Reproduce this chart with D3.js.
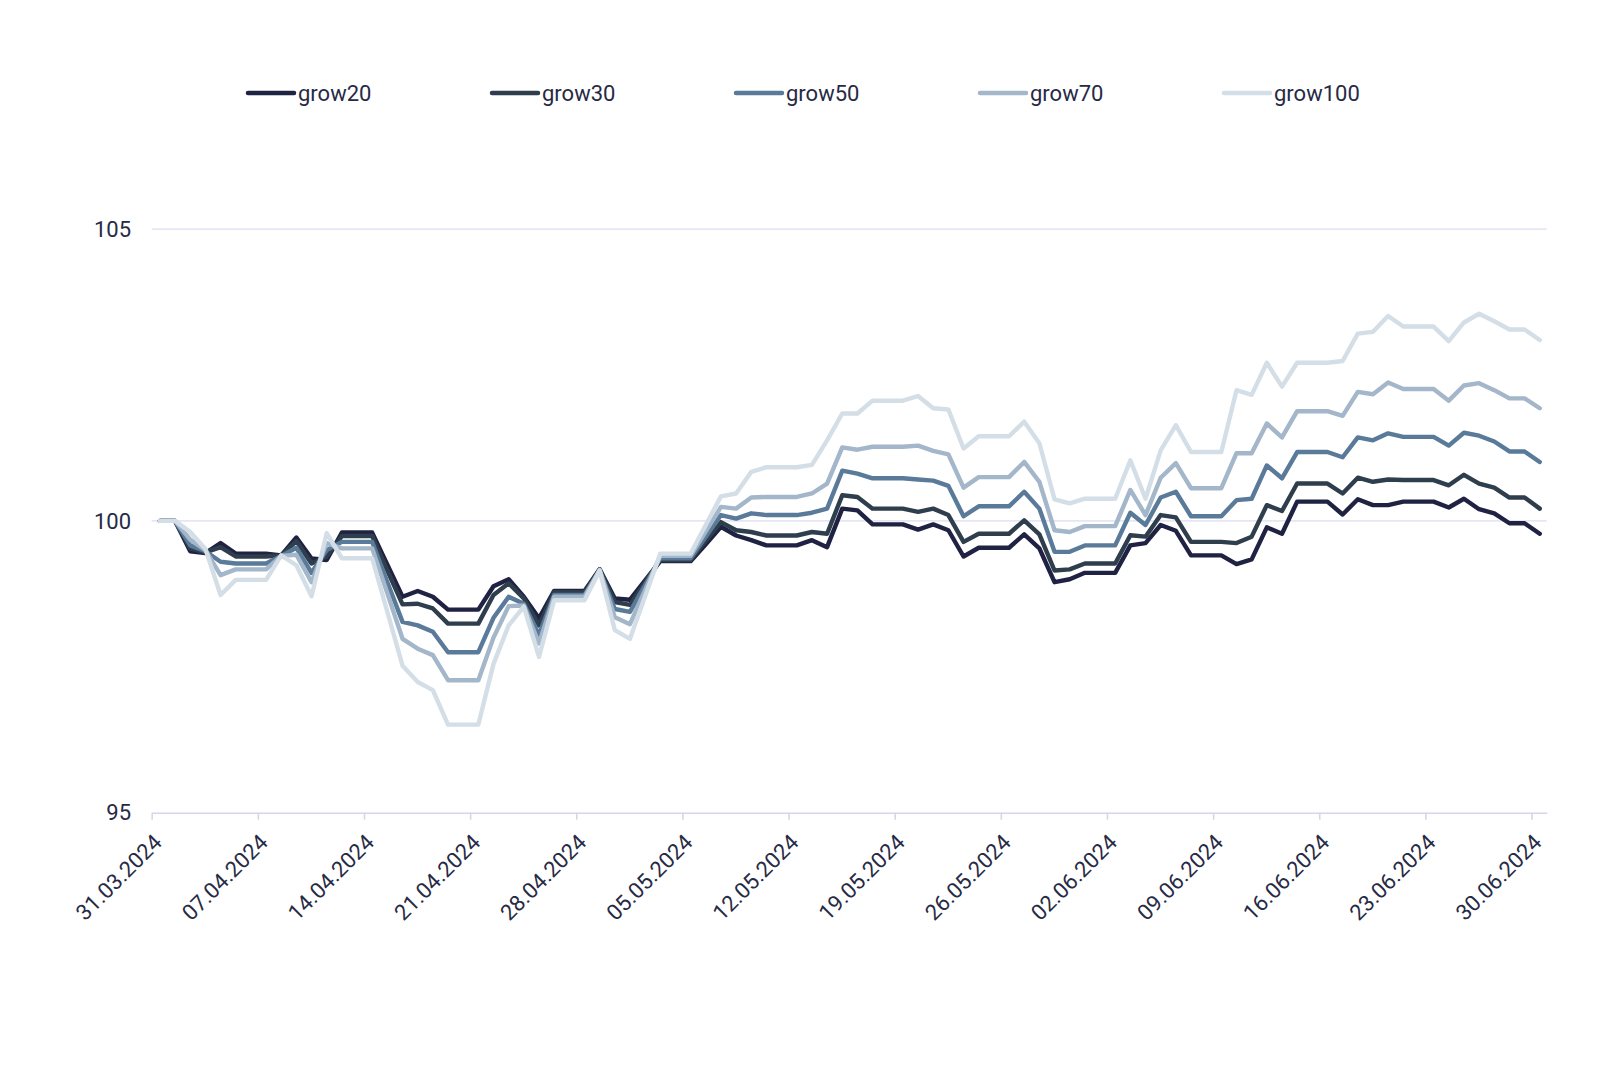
<!DOCTYPE html>
<html>
<head>
<meta charset="utf-8">
<script src="https://cdn.jsdelivr.net/npm/d3@7/dist/d3.min.js"></script>
<style>
  html, body { margin: 0; padding: 0; background: #ffffff; }
  svg { display: block; font-family: Roboto, "Noto Sans", sans-serif; }
</style>
</head>
<body>
<svg id="chart" width="1600" height="1074"></svg>
<script>
// ---- data ----
const startDate = "2024-03-31";
const endDate = "2024-07-01";
const seriesNames = ["grow20", "grow30", "grow50", "grow70", "grow100"];
const seriesColors = ["#1f2242", "#2f3e4c", "#5a7a99", "#a4b6c9", "#d4dee7"];
const yTicks = [95, 100, 105];

const grow20 = [
  100, 100, 99.48, 99.45, 99.62, 99.44, 99.44, 99.44, 99.41, 99.715,
  99.355, 99.33, 99.80, 99.80, 99.80, 99.25, 98.70, 98.80, 98.70, 98.48,
  98.48, 98.48, 98.88, 99.00, 98.70, 98.33, 98.80, 98.80, 98.80, 99.17,
  98.67, 98.65, 98.98, 99.31, 99.31, 99.31, 99.60, 99.90, 99.75, 99.67,
  99.58, 99.58, 99.58, 99.67, 99.55, 100.21, 100.18, 99.94, 99.94, 99.94,
  99.85, 99.94, 99.84, 99.39, 99.54, 99.54, 99.54, 99.77, 99.53, 98.95,
  99.00, 99.11, 99.11, 99.11, 99.58, 99.62, 99.93, 99.83, 99.41, 99.41,
  99.41, 99.26, 99.34, 99.89, 99.78, 100.33, 100.33, 100.33, 100.11, 100.37,
  100.27, 100.27, 100.33, 100.33, 100.33, 100.23, 100.38, 100.20, 100.13, 99.96,
  99.96, 99.78
];
const grow30 = [
  100, 100, 99.53, 99.46, 99.55, 99.39, 99.39, 99.39, 99.41, 99.655,
  99.27, 99.39, 99.74, 99.74, 99.74, 99.15, 98.57, 98.58, 98.50, 98.24,
  98.24, 98.24, 98.73, 98.93, 98.67, 98.21, 98.78, 98.78, 98.78, 99.17,
  98.61, 98.56, 98.95, 99.33, 99.33, 99.33, 99.66, 99.98, 99.84, 99.81,
  99.75, 99.75, 99.75, 99.81, 99.78, 100.44, 100.41, 100.21, 100.21, 100.21,
  100.155, 100.21, 100.10, 99.64, 99.78, 99.78, 99.78, 100.01, 99.77, 99.15,
  99.17, 99.27, 99.27, 99.27, 99.755, 99.73, 100.10, 100.06, 99.64, 99.64,
  99.64, 99.62, 99.73, 100.27, 100.17, 100.64, 100.64, 100.64, 100.47, 100.74,
  100.67, 100.71, 100.70, 100.70, 100.70, 100.61, 100.79, 100.64, 100.57, 100.40,
  100.40, 100.21
];
const grow50 = [
  100, 100, 99.58, 99.48, 99.30, 99.27, 99.27, 99.27, 99.40, 99.54,
  99.11, 99.50, 99.64, 99.64, 99.64, 98.95, 98.27, 98.21, 98.10, 97.75,
  97.75, 97.75, 98.34, 98.70, 98.58, 98.05, 98.73, 98.73, 98.73, 99.15,
  98.49, 98.44, 98.90, 99.36, 99.36, 99.36, 99.73, 100.10, 100.04, 100.13,
  100.10, 100.10, 100.10, 100.14, 100.21, 100.86, 100.81, 100.73, 100.73, 100.73,
  100.71, 100.69, 100.60, 100.08, 100.25, 100.25, 100.25, 100.50, 100.21, 99.47,
  99.47, 99.58, 99.58, 99.58, 100.14, 99.93, 100.40, 100.50, 100.08, 100.08,
  100.08, 100.355, 100.38, 100.95, 100.73, 101.18, 101.18, 101.18, 101.09, 101.43,
  101.38, 101.50, 101.44, 101.44, 101.44, 101.29, 101.51, 101.46, 101.36, 101.19,
  101.19, 101.01
];
const grow70 = [
  100, 100, 99.68, 99.50, 99.07, 99.17, 99.17, 99.17, 99.40, 99.42,
  98.95, 99.62, 99.53, 99.53, 99.53, 98.76, 97.98, 97.81, 97.70, 97.27,
  97.27, 97.27, 98.00, 98.54, 98.55, 97.90, 98.70, 98.70, 98.70, 99.16,
  98.35, 98.23, 98.82, 99.40, 99.40, 99.40, 99.82, 100.24, 100.21, 100.40,
  100.41, 100.41, 100.41, 100.47, 100.64, 101.26, 101.22, 101.27, 101.27, 101.27,
  101.29, 101.20, 101.14, 100.57, 100.75, 100.75, 100.75, 101.01, 100.67, 99.84,
  99.81, 99.91, 99.91, 99.91, 100.53, 100.10, 100.74, 100.99, 100.56, 100.56,
  100.56, 101.16, 101.16, 101.67, 101.43, 101.88, 101.88, 101.88, 101.80, 102.21,
  102.17, 102.37, 102.26, 102.26, 102.26, 102.06, 102.32, 102.36, 102.24, 102.10,
  102.10, 101.93
];
const grow100 = [
  100, 100, 99.81, 99.52, 98.73, 98.99, 98.99, 98.99, 99.41, 99.24,
  98.71, 99.79, 99.36, 99.36, 99.36, 98.44, 97.52, 97.24, 97.10, 96.51,
  96.51, 96.51, 97.55, 98.21, 98.53, 97.67, 98.64, 98.64, 98.64, 99.15,
  98.13, 97.98, 98.71, 99.44, 99.44, 99.44, 99.93, 100.42, 100.47, 100.84,
  100.92, 100.92, 100.92, 100.96, 101.38, 101.84, 101.84, 102.06, 102.06, 102.06,
  102.14, 101.93, 101.91, 101.24, 101.45, 101.45, 101.45, 101.70, 101.33, 100.37,
  100.30, 100.38, 100.38, 100.38, 101.04, 100.38, 101.21, 101.64, 101.18, 101.18,
  101.18, 102.24, 102.16, 102.71, 102.30, 102.71, 102.71, 102.71, 102.74, 103.21,
  103.24, 103.51, 103.33, 103.33, 103.33, 103.08, 103.40, 103.55, 103.42, 103.28,
  103.28, 103.10
];
const seriesValues = [grow20, grow30, grow50, grow70, grow100];

// ---- layout ----
const margin = { left: 151.7, right: 1546.7, top: 229.1, bottom: 812.7 };
const textColor = "#272a45";
const gridColor = "#dcdcf0";

const parse = d3.timeParse("%Y-%m-%d");
const t0 = parse(startDate), t1 = parse(endDate);
const dates = d3.timeDay.range(t0, t1); // one point per day, 31.03 .. 30.06
const pointTime = d => d3.timeHour.offset(d, 13);

const x = d3.scaleTime().domain([t0, t1]).range([margin.left, margin.right]);
const y = d3.scaleLinear().domain([95, 105]).range([margin.bottom, margin.top]);

const svg = d3.select("#chart");

// gridlines
svg.append("g").selectAll("line").data(yTicks.filter(v => v !== 95)).join("line")
  .attr("x1", margin.left).attr("x2", margin.right)
  .attr("y1", d => y(d)).attr("y2", d => y(d))
  .attr("stroke", gridColor).attr("stroke-width", 1.2);

// y labels
svg.append("g").selectAll("text").data(yTicks).join("text")
  .attr("x", 131).attr("y", d => y(d))
  .attr("dy", "0.35em")
  .attr("text-anchor", "end")
  .attr("font-size", 22)
  .attr("fill", textColor)
  .text(d => d);

// x axis
const xAxis = d3.axisBottom(x)
  .ticks(d3.timeWeek.every(1))
  .tickFormat(d3.timeFormat("%d.%m.%Y"))
  .tickSize(7)
  .tickSizeOuter(0);
const gx = svg.append("g").attr("transform", `translate(0,${margin.bottom})`).call(xAxis);
gx.select(".domain").attr("stroke", "#d5d5ec").attr("stroke-width", 1.6);
gx.selectAll(".tick line").attr("stroke", "#d5d5ec").attr("stroke-width", 1.6);
gx.selectAll(".tick text")
  .attr("font-size", 22)
  .attr("font-family", "Roboto, 'Noto Sans', sans-serif")
  .attr("fill", textColor)
  .attr("text-anchor", "end")
  .attr("x", 0).attr("y", 0).attr("dy", 0)
  .attr("transform", "translate(11,31) rotate(-45)");

// lines
const line = d3.line()
  .x((d, i) => x(pointTime(dates[i])))
  .y(d => y(d));

svg.append("g").selectAll("path").data(seriesValues).join("path")
  .attr("d", d => line(d))
  .attr("fill", "none")
  .attr("stroke", (d, i) => seriesColors[i])
  .attr("stroke-width", 4.4)
  .attr("stroke-linejoin", "round")
  .attr("stroke-linecap", "round");

// legend
const legendX = d3.scaleLinear().domain([0, 1]).range([248, 492]);
const lg = svg.append("g").selectAll("g").data(seriesNames).join("g")
  .attr("transform", (d, i) => `translate(${legendX(i)},93)`);
lg.append("line")
  .attr("x1", 0).attr("x2", 46).attr("y1", 0).attr("y2", 0)
  .attr("stroke", (d, i) => seriesColors[i])
  .attr("stroke-width", 4.5)
  .attr("stroke-linecap", "round");
lg.append("text")
  .attr("x", 50).attr("y", 0).attr("dy", "0.35em")
  .attr("font-size", 22)
  .attr("fill", textColor)
  .text(d => d);
</script>
</body>
</html>
